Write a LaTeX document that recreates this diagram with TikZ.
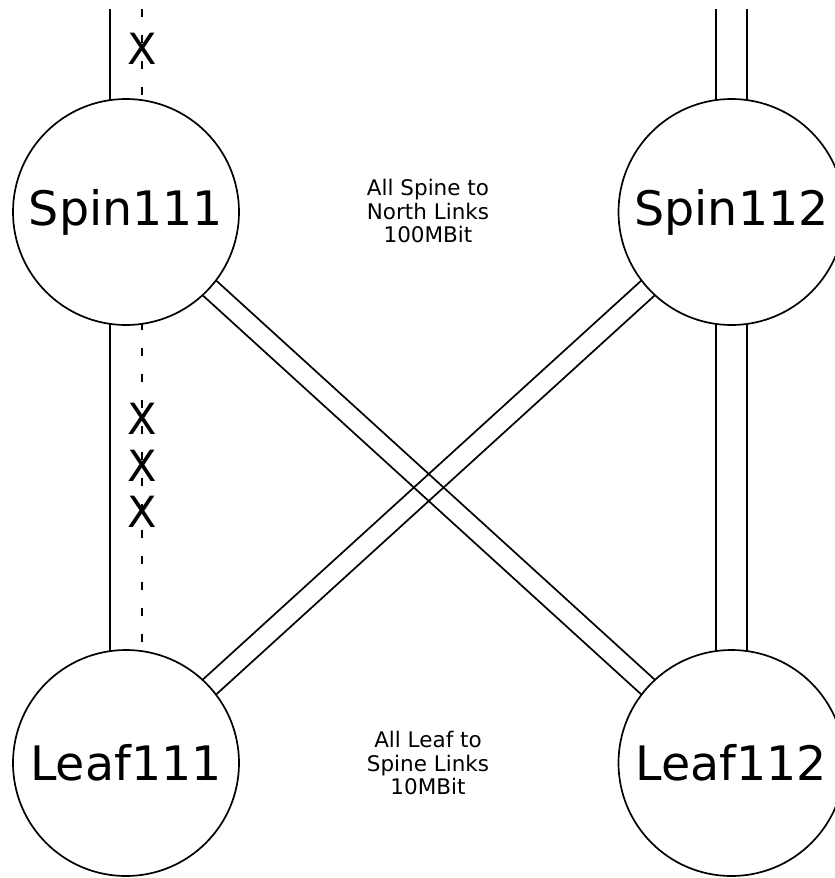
\documentclass[tikz,border=0pt]{standalone}
\usepackage{fontspec}
\setmainfont{DejaVu Sans}
\usetikzlibrary{calc,backgrounds}
\begin{document}
\begin{tikzpicture}[x=1pt,y=-1pt,
  device/.style={circle,draw,line width=1.7pt,fill=white,minimum size=226pt,inner sep=0pt,outer sep=0pt,font=\fontsize{47.5}{56}\selectfont},
  note/.style={align=center,inner sep=0pt,font=\fontsize{21.5}{23.5}\selectfont},
  cutmark/.style={inner sep=0pt,font=\fontsize{43}{48}\selectfont},
  link/.style={draw,line width=1.7pt},
  brokenlink/.style={link,dash pattern=on 8pt off 18pt},
  brokendown/.style={brokenlink,dash phase=20pt}]
\useasboundingbox (0,0) rectangle (835,878);
\clip (0,0) rectangle (835,878);

\node[device] (s1) at (126,212) {Spin111};
\node[device] (s2) at (731.5,212) {Spin112};
\node[device] (l1) at (126,763) {Leaf111};
\node[device] (l2) at (731.5,763) {Leaf112};

\coordinate (t1) at (126,9);
\coordinate (t2) at (731.5,9);

\node[note] (n1) at (428,211) {All Spine to\\North Links\\100MBit};
\node[note] (n2) at (428,763) {All Leaf to\\Spine Links\\10MBit};

\begin{scope}[on background layer]
  % left north links
  \draw[link] ([xshift=-16pt]t1) -- ([xshift=-16pt]s1.center);
  \draw[brokenlink] ([xshift=16pt]t1) -- ([xshift=16pt]s1.center);
  % right north links
  \draw[link] ([xshift=-15.5pt]t2) -- ([xshift=-15.5pt]s2.center);
  \draw[link] ([xshift=15.5pt]t2) -- ([xshift=15.5pt]s2.center);
  % left vertical
  \draw[link] ([xshift=-16pt]s1.center) -- ([xshift=-16pt]l1.center);
  \draw[brokendown] ([xshift=16pt]s1.center) -- ([xshift=16pt]l1.center);
  % right vertical
  \draw[link] ([xshift=-15.5pt]s2.center) -- ([xshift=-15.5pt]l2.center);
  \draw[link] ([xshift=15.5pt]s2.center) -- ([xshift=15.5pt]l2.center);
  % diagonals
  \draw[link] ($(s1.center)!10pt!90:(l2.center)$) -- ($(l2.center)!10pt!-90:(s1.center)$);
  \draw[link] ($(s1.center)!10pt!-90:(l2.center)$) -- ($(l2.center)!10pt!90:(s1.center)$);
  \draw[link] ($(s2.center)!10pt!90:(l1.center)$) -- ($(l1.center)!10pt!-90:(s2.center)$);
  \draw[link] ($(s2.center)!10pt!-90:(l1.center)$) -- ($(l1.center)!10pt!90:(s2.center)$);
\end{scope}

\node[cutmark] (x0) at (142,49) {X};
\node[cutmark] (x1) at (142,419) {X};
\node[cutmark] (x2) at (142,466) {X};
\node[cutmark] (x3) at (142,512) {X};
\end{tikzpicture}
\end{document}
